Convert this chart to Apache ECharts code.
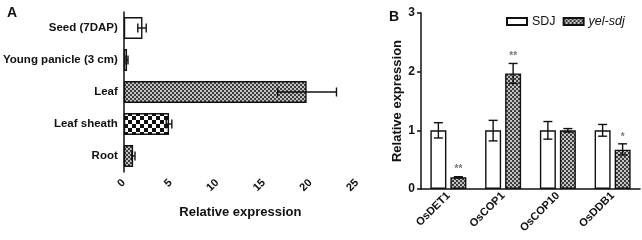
<!DOCTYPE html>
<html>
<head>
<meta charset="utf-8">
<script src="https://cdn.jsdelivr.net/npm/echarts@6/dist/echarts.min.js"></script>
<style>
  html, body { margin: 0; padding: 0; background: #fff; }
  #chart { width: 642px; height: 240px; }
</style>
</head>
<body>
<div id="chart"></div>
<script>
// panel A: tissue expression
var tissues = ['Seed (7DAP)', 'Young panicle (3 cm)', 'Leaf', 'Leaf sheath', 'Root'];
var tissueValues = [2.0, 0.35, 19.6, 4.85, 1.0];
var tissueErrLow = [1.5, 0.25, 16.5, 4.55, 0.85];
var tissueErrHigh = [2.4, 0.45, 22.8, 5.15, 1.2];
var tissueTicks = [0, 5, 10, 15, 20, 25];

// panel B: genes
var genes = ['OsDET1', 'OsCOP1', 'OsCOP10', 'OsDDB1'];
var sdjValues = [1.0, 1.0, 1.0, 1.0];
var sdjErrLow = [0.87, 0.82, 0.85, 0.9];
var sdjErrHigh = [1.13, 1.17, 1.15, 1.1];
var yelValues = [0.2, 1.97, 1.0, 0.67];
var yelErrLow = [0.19, 1.8, 0.97, 0.58];
var yelErrHigh = [0.21, 2.14, 1.03, 0.77];
var yelSig = ['**', '**', '', '*'];

function makePattern(cell, dark, light) {
	var c = document.createElement('canvas');
	c.width = cell * 2;
	c.height = cell * 2;
	var ctx = c.getContext('2d');
	ctx.fillStyle = light;
	ctx.fillRect(0, 0, cell * 2, cell * 2);
	ctx.fillStyle = dark;
	ctx.fillRect(0, 0, cell, cell);
	ctx.fillRect(cell, cell, cell, cell);
	return {image: c, repeat: 'repeat'};
}

var finePat = makePattern(2, '#3c3c3c', '#c4c4c4');
var coarsePat = makePattern(4, '#111', '#fff');
var tissueFill = ['#fff', '#fff', finePat, coarsePat, finePat];

var chart = echarts.init(document.getElementById('chart'));

function hErrBar(params, api) {
	var y = api.value(0);
	var lo = api.coord([api.value(1), y]);
	var hi = api.coord([api.value(2), y]);
	var cap = 4.5;
	var st = {stroke: '#111', lineWidth: 1.4};
	return {type: 'group', children: [
		{type: 'line', shape: {x1: lo[0], y1: lo[1], x2: hi[0], y2: hi[1]}, style: st},
		{type: 'line', shape: {x1: lo[0], y1: lo[1] - cap, x2: lo[0], y2: lo[1] + cap}, style: st},
		{type: 'line', shape: {x1: hi[0], y1: hi[1] - cap, x2: hi[0], y2: hi[1] + cap}, style: st}
	]};
}

function vErrBar(offset, sig) {
	return function(params, api) {
		var x = api.value(0);
		var lo = api.coord([x, api.value(1)]);
		var hi = api.coord([x, api.value(2)]);
		var cx = lo[0] + offset;
		var cap = 4.5;
		var st = {stroke: '#111', lineWidth: 1.4};
		var kids = [
			{type: 'line', shape: {x1: cx, y1: lo[1], x2: cx, y2: hi[1]}, style: st},
			{type: 'line', shape: {x1: cx - cap, y1: lo[1], x2: cx + cap, y2: lo[1]}, style: st},
			{type: 'line', shape: {x1: cx - cap, y1: hi[1], x2: cx + cap, y2: hi[1]}, style: st}
		];
		if (sig && sig[params.dataIndex]) {
			kids.push({type: 'text', style: {
				x: cx, y: hi[1] - 2, text: sig[params.dataIndex],
				fill: '#777', font: 'bold 10px "Liberation Sans", Arial',
				align: 'center', verticalAlign: 'bottom'
			}});
		}
		return {type: 'group', children: kids};
	};
}

var axisLine = {lineStyle: {color: '#111', width: 1.5}};
var axisTick = {length: 4, lineStyle: {color: '#111', width: 1.5}};

var option = {
	animation: false,
	textStyle: {fontFamily: '"Liberation Sans", Arial, sans-serif'},
	title: [
		{text: 'A', left: 2, top: 1, textStyle: {fontSize: 14, fontWeight: 'bold', color: '#111'}},
		{text: 'B', left: 384, top: 5, textStyle: {fontSize: 14, fontWeight: 'bold', color: '#111'}}
	],
	legend: {
		left: 501, top: 10,
		icon: 'rect',
		itemWidth: 20, itemHeight: 7,
		itemGap: 7,
		data: ['SDJ', 'yel-sdj'],
		formatter: function(name) {
			return name === 'yel-sdj' ? '{i|yel-sdj}' : name;
		},
		textStyle: {
			fontSize: 12.5, color: '#111',
			rich: {i: {fontStyle: 'italic', fontSize: 12.5, color: '#111'}}
		}
	},
	grid: [
		{left: 123, right: 285, top: 12, bottom: 68},
		{left: 421, right: 2, top: 13, bottom: 51}
	],
	xAxis: [{
		gridIndex: 0,
		type: 'value',
		min: 0, max: 25, interval: 5,
		name: 'Relative expression',
		nameLocation: 'middle',
		nameGap: 34,
		nameTextStyle: {fontSize: 13, fontWeight: 'bold', color: '#111'},
		axisLine: axisLine,
		axisTick: axisTick,
		splitLine: {show: false},
		axisLabel: {rotate: 45, fontSize: 11, fontWeight: 'bold', color: '#111', margin: 9}
	}, {
		gridIndex: 1,
		type: 'category',
		data: genes,
		axisLine: axisLine,
		axisTick: {alignWithLabel: true, length: 4, lineStyle: {color: '#111', width: 1.5}},
		axisLabel: {rotate: 45, fontSize: 11, fontWeight: 'bold', color: '#111', margin: 5}
	}],
	yAxis: [{
		gridIndex: 0,
		type: 'category',
		inverse: true,
		data: tissues,
		axisLine: axisLine,
		axisTick: {alignWithLabel: true, length: 4, lineStyle: {color: '#111', width: 1.5}},
		axisLabel: {fontSize: 11.5, fontWeight: 'bold', color: '#111', margin: 6}
	}, {
		gridIndex: 1,
		type: 'value',
		min: 0, max: 3, interval: 1,
		name: 'Relative expression',
		nameLocation: 'middle',
		nameRotate: 90,
		nameGap: 17,
		nameTextStyle: {fontSize: 13, fontWeight: 'bold', color: '#111'},
		axisLine: {show: true, lineStyle: {color: '#111', width: 1.5}},
		axisTick: {show: true, length: 4, lineStyle: {color: '#111', width: 1.5}},
		splitLine: {show: false},
		axisLabel: {fontSize: 12, fontWeight: 'bold', color: '#111', margin: 6}
	}],
	series: [{
		type: 'bar',
		xAxisIndex: 0, yAxisIndex: 0,
		barWidth: 22,
		data: tissueValues.map(function(v, i) {
			return {value: v, itemStyle: {color: tissueFill[i]}};
		}),
		itemStyle: {borderColor: '#111', borderWidth: 1.4}
	}, {
		type: 'custom',
		xAxisIndex: 0, yAxisIndex: 0,
		renderItem: hErrBar,
		encode: {y: 0, x: [1, 2]},
		data: tissues.map(function(t, i) { return [i, tissueErrLow[i], tissueErrHigh[i]]; }),
		z: 5
	}, {
		name: 'SDJ',
		type: 'bar',
		xAxisIndex: 1, yAxisIndex: 1,
		barWidth: 16,
		barGap: '25%',
		data: sdjValues,
		itemStyle: {color: '#fff', borderColor: '#111', borderWidth: 1.4}
	}, {
		name: 'yel-sdj',
		type: 'bar',
		xAxisIndex: 1, yAxisIndex: 1,
		barWidth: 16,
		data: yelValues,
		itemStyle: {color: finePat, borderColor: '#111', borderWidth: 1.4}
	}, {
		type: 'custom',
		xAxisIndex: 1, yAxisIndex: 1,
		renderItem: vErrBar(-10, null),
		encode: {x: 0, y: [1, 2]},
		data: genes.map(function(g, i) { return [i, sdjErrLow[i], sdjErrHigh[i]]; }),
		z: 5
	}, {
		type: 'custom',
		xAxisIndex: 1, yAxisIndex: 1,
		renderItem: vErrBar(10, yelSig),
		encode: {x: 0, y: [1, 2]},
		data: genes.map(function(g, i) { return [i, yelErrLow[i], yelErrHigh[i]]; }),
		z: 5
	}]
};

chart.setOption(option);
</script>
</body>
</html>
